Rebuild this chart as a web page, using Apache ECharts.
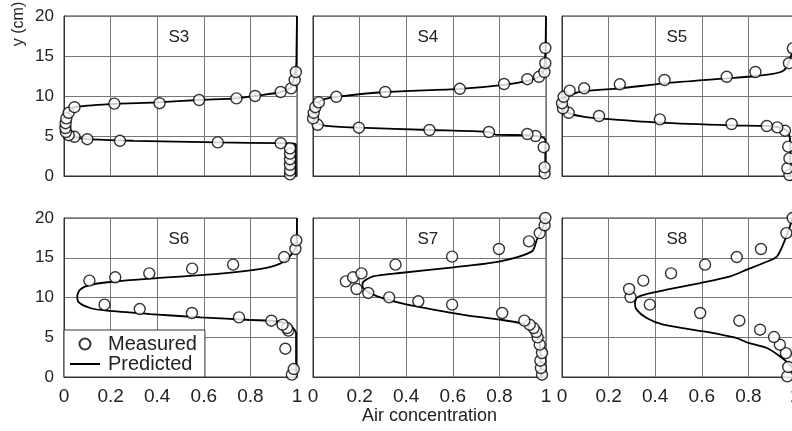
<!DOCTYPE html>
<html>
<head>
<meta charset="utf-8">
<script src="https://cdn.jsdelivr.net/npm/echarts@6/dist/echarts.min.js"></script>
<style>html,body{margin:0;padding:0;background:#fff;}#c{width:792px;height:431px;}</style>
</head>
<body>
<div id="c"></div>
<script>
// ---- data (air concentration c, height y in cm) ----
const panelNames = ['S3', 'S4', 'S5', 'S6', 'S7', 'S8'];
const xTicks = [0, 0.2, 0.4, 0.6, 0.8, 1];
const yTicks = [0, 5, 10, 15, 20];

const s3MeasX = [0.97, 0.97, 0.97, 0.97, 0.97, 0.97, 0.93, 0.66, 0.24, 0.10, 0.045, 0.02, 0.008, 0.006, 0.007, 0.01, 0.02, 0.045, 0.216, 0.41, 0.58, 0.74, 0.82, 0.93, 0.975, 0.99, 0.995];
const s3MeasY = [0.2, 0.7, 1.4, 2.1, 2.8, 3.45, 4.1, 4.2, 4.4, 4.6, 4.9, 5.1, 5.5, 6.0, 6.6, 7.2, 7.9, 8.6, 9.05, 9.1, 9.5, 9.7, 10.0, 10.5, 10.95, 12.0, 13.0];
const s3PredX = [0.995, 0.995, 0.99, 0.93, 0.66, 0.30, 0.10, 0.04, 0.012, 0.005, 0.008, 0.02, 0.045, 0.2, 0.4, 0.58, 0.74, 0.82, 0.93, 0.97, 0.985, 0.993, 0.997, 0.998, 1.0];
const s3PredY = [0, 3.9, 4.05, 4.1, 4.2, 4.4, 4.6, 4.9, 5.3, 6.0, 7.0, 8.0, 8.6, 9.0, 9.2, 9.5, 9.7, 10.0, 10.5, 11.0, 12.0, 13.0, 14.0, 16.0, 20];

const s4MeasX = [0.994, 0.994, 0.99, 0.955, 0.92, 0.755, 0.5, 0.197, 0.02, 0.0, 0.003, 0.01, 0.025, 0.10, 0.31, 0.63, 0.82, 0.92, 0.97, 0.993, 0.997, 0.997];
const s4MeasY = [0.33, 1.08, 3.6, 5.0, 5.25, 5.5, 5.75, 6.04, 6.4, 7.2, 7.9, 8.6, 9.2, 9.9, 10.5, 10.9, 11.5, 12.1, 12.4, 13.0, 14.1, 16.0];
const s4PredX = [0.997, 0.997, 0.976, 0.918, 0.79, 0.755, 0.5, 0.2, 0.05, 0.01, 0.0, 0.003, 0.015, 0.05, 0.1, 0.31, 0.63, 0.82, 0.92, 0.97, 0.99, 0.995, 0.998, 1.0];
const s4PredY = [0, 4.5, 4.92, 5.12, 5.13, 5.5, 5.75, 6.04, 6.3, 6.8, 7.5, 8.3, 9.0, 9.6, 9.9, 10.5, 10.9, 11.4, 11.9, 12.4, 13.2, 14.5, 16.0, 20];

const s5MeasX = [0.976, 0.967, 0.976, 0.971, 0.957, 0.924, 0.879, 0.728, 0.42, 0.159, 0.029, 0.004, 0.0, 0.007, 0.033, 0.095, 0.248, 0.44, 0.707, 0.83, 0.974, 0.991];
const s5MeasY = [0.12, 0.96, 2.2, 3.67, 5.66, 6.08, 6.25, 6.5, 7.08, 7.5, 7.9, 8.46, 9.1, 9.9, 10.67, 10.96, 11.46, 12.0, 12.4, 13.0, 14.1, 15.96];
const s5PredX = [0.98, 0.98, 0.973, 0.95, 0.88, 0.73, 0.42, 0.159, 0.09, 0.033, 0.004, 0.004, 0.033, 0.095, 0.248, 0.44, 0.707, 0.83, 0.951, 0.994, 1.0];
const s5PredY = [0, 3.67, 5.33, 5.96, 6.25, 6.33, 6.67, 7.2, 7.42, 7.83, 8.67, 9.5, 10.1, 10.6, 10.96, 11.58, 12.2, 12.5, 13.17, 16.2, 20];

const s6MeasX = [0.978, 0.986, 0.95, 0.963, 0.957, 0.938, 0.89, 0.751, 0.549, 0.325, 0.174, 0.109, 0.22, 0.366, 0.55, 0.726, 0.945, 0.993, 0.997];
const s6MeasY = [0.3, 1.0, 3.56, 5.83, 6.16, 6.58, 7.08, 7.5, 8.05, 8.55, 9.1, 12.12, 12.54, 13.04, 13.63, 14.13, 15.09, 16.1, 17.19];
const s6PredX = [0.996, 0.996, 0.974, 0.917, 0.8, 0.586, 0.37, 0.184, 0.112, 0.062, 0.057, 0.069, 0.112, 0.198, 0.37, 0.66, 0.845, 0.93, 0.97, 0.997, 1.0];
const s6PredY = [0, 5.53, 6.37, 7.0, 7.17, 7.5, 7.92, 8.34, 8.68, 9.43, 10.15, 11.0, 11.6, 11.95, 12.37, 12.96, 13.6, 14.3, 15.2, 16.6, 20];

const s7MeasX = [0.983, 0.978, 0.976, 0.983, 0.973, 0.964, 0.958, 0.947, 0.93, 0.907, 0.812, 0.597, 0.452, 0.327, 0.237, 0.187, 0.141, 0.172, 0.208, 0.354, 0.597, 0.798, 0.927, 0.973, 0.994, 0.997];
const s7MeasY = [0.29, 1.13, 2.05, 3.02, 4.07, 4.99, 5.66, 6.16, 6.58, 7.09, 8.05, 9.1, 9.52, 10.02, 10.57, 11.07, 12.03, 12.54, 13.04, 14.13, 15.14, 16.1, 17.06, 18.1, 19.08, 20.0];
const s7PredX = [0.978, 0.976, 0.968, 0.947, 0.89, 0.803, 0.66, 0.516, 0.373, 0.258, 0.212, 0.215, 0.258, 0.373, 0.603, 0.803, 0.94, 0.961, 0.976, 1.0];
const s7PredY = [0, 3.23, 4.9, 6.16, 6.79, 7.21, 7.76, 8.47, 9.31, 10.36, 11.4, 11.95, 12.66, 13.08, 13.79, 14.55, 15.8, 17.27, 18.0, 20];

const s8MeasX = [0.967, 0.971, 0.961, 0.935, 0.91, 0.85, 0.761, 0.593, 0.377, 0.294, 0.288, 0.349, 0.468, 0.614, 0.75, 0.854, 0.963, 0.99];
const s8MeasY = [0.08, 1.26, 3.0, 4.06, 5.03, 5.95, 7.08, 8.05, 9.1, 10.06, 11.07, 12.12, 13.04, 14.13, 15.09, 16.1, 18.1, 20.0];
const s8PredX = [1.0, 0.986, 0.935, 0.879, 0.80, 0.75, 0.607, 0.435, 0.363, 0.32, 0.313, 0.323, 0.363, 0.449, 0.593, 0.722, 0.793, 0.865, 0.923, 0.963, 0.99];
const s8PredY = [0, 1.26, 2.6, 3.65, 4.28, 4.9, 5.74, 6.58, 7.42, 8.47, 9.31, 10.02, 10.44, 10.99, 11.82, 12.66, 13.5, 14.34, 15.18, 17.7, 20];

const measX = [s3MeasX, s4MeasX, s5MeasX, s6MeasX, s7MeasX, s8MeasX];
const measY = [s3MeasY, s4MeasY, s5MeasY, s6MeasY, s7MeasY, s8MeasY];
const predX = [s3PredX, s4PredX, s5PredX, s6PredX, s7PredX, s8PredX];
const predY = [s3PredY, s4PredY, s5PredY, s6PredY, s7PredY, s8PredY];

// ---- layout ----
const FONT = 'Liberation Sans, Arial, sans-serif';
const colLeft = [64, 313, 562];
const rowTop = [16, 218];
const rowH = [160, 159];
const W = 233;

const grids = [], xAxes = [], yAxes = [], series = [], graphics = [];
for (let i = 0; i < 6; i++) {
  const r = Math.floor(i / 3), c = i % 3;
  grids.push({
    left: colLeft[c], top: rowTop[r], width: W, height: rowH[r],
    show: true, borderColor: '#333', borderWidth: 1, backgroundColor: 'transparent',
    outerBoundsMode: 'none', containLabel: false
  });
  xAxes.push({
    type: 'value', gridIndex: i, min: xTicks[0], max: xTicks[xTicks.length - 1], interval: 0.2,
    axisLine: { show: true, onZero: false, lineStyle: { color: '#333', width: 1 } },
    axisTick: { show: false },
    splitLine: { show: true, lineStyle: { color: '#777', width: 1 } },
    axisLabel: { show: r === 1, showMinLabel: true, showMaxLabel: true, margin: 10,
      color: '#222', fontSize: 19, fontFamily: FONT },
    name: (i === 4) ? 'Air concentration' : '',
    nameLocation: 'middle', nameGap: 26,
    nameTextStyle: { color: '#222', fontSize: 18, fontFamily: FONT }
  });
  yAxes.push({
    type: 'value', gridIndex: i, min: yTicks[0], max: yTicks[yTicks.length - 1], interval: 5,
    axisLine: { show: true, onZero: false, lineStyle: { color: '#333', width: 1 } },
    axisTick: { show: false },
    splitLine: { show: true, lineStyle: { color: '#777', width: 1 } },
    axisLabel: { show: c === 0, showMinLabel: true, showMaxLabel: true, margin: 10,
      color: '#222', fontSize: 17, fontFamily: FONT }
  });
  series.push({
    name: 'Predicted', type: 'line', xAxisIndex: i, yAxisIndex: i,
    data: predX[i].map((x, k) => [x, predY[i][k]]),
    symbol: 'none', smooth: 0.25, z: 3, clip: false,
    lineStyle: { color: '#000', width: 1.8 }, itemStyle: { color: '#000' }
  });
  series.push({
    name: 'Measured', type: 'scatter', xAxisIndex: i, yAxisIndex: i,
    data: measX[i].map((x, k) => [x, measY[i][k]]),
    symbol: 'circle', symbolSize: 11, z: 4, clip: false,
    itemStyle: { color: '#fff', borderColor: '#000', borderWidth: 1.4 }
  });
  graphics.push({
    type: 'text', left: colLeft[c] + W / 2 - 12, top: rowTop[r] + 13, z: 10,
    style: { text: panelNames[i], fill: '#222', font: '17px ' + FONT }
  });
}
graphics.push({
  type: 'text', rotation: Math.PI / 2, x: 19, y: 24, z: 10,
  style: { text: 'y (cm)', fill: '#222', font: '16px ' + FONT, align: 'center', verticalAlign: 'middle' }
});

const chart = echarts.init(document.getElementById('c'), null, { renderer: 'canvas' });
chart.setOption({
  animation: false,
  backgroundColor: '#fff',
  grid: grids, xAxis: xAxes, yAxis: yAxes, series: series,
  graphic: graphics,
  legend: {
    data: [
      { name: 'Measured', icon: 'circle' },
      { name: 'Predicted', icon: 'path://M0,0H30V2H0Z' }
    ],
    orient: 'vertical', left: 64, top: 330,
    backgroundColor: '#fff', borderColor: '#333', borderWidth: 1,
    padding: [4, 8, 3, 6], itemGap: 0, itemWidth: 30, itemHeight: 11,
    textStyle: { color: '#222', fontSize: 20, fontFamily: FONT, lineHeight: 20, padding: [0, 0, 0, 3] },
    z: 20
  }
});
</script>
</body>
</html>
